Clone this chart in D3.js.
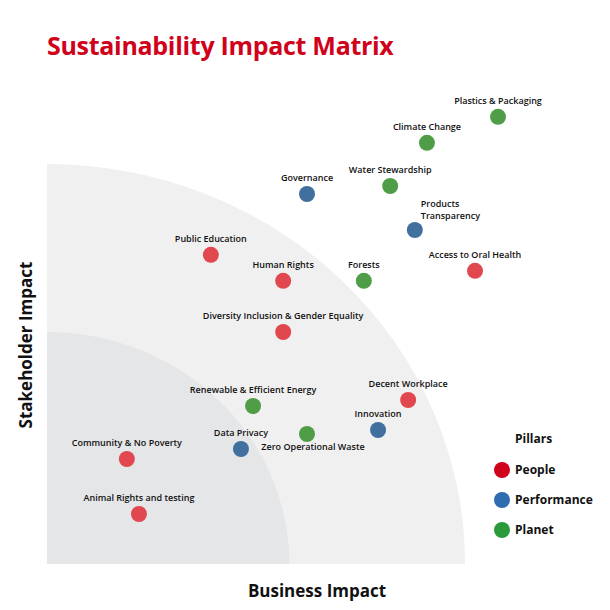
<!DOCTYPE html>
<html><head><meta charset="utf-8">
<script src="https://cdn.jsdelivr.net/npm/d3@7"></script>
<style>body{margin:0;background:#fff}</style></head>
<body><svg id="c" width="610" height="610"></svg>
<script>
const names = ["Plastics & Packaging","Climate Change","Water Stewardship","Governance","Products Transparency","Public Education","Human Rights","Forests","Access to Oral Health","Diversity Inclusion & Gender Equality","Decent Workplace","Renewable & Efficient Energy","Innovation","Zero Operational Waste","Data Privacy","Community & No Poverty","Animal Rights and testing"];
const businessImpact = [107.9,90.9,82.1,62.2,88.0,39.2,56.5,75.8,102.4,56.5,86.4,49.3,79.2,62.2,46.4,19.1,22.0];
const stakeholderImpact = [111.8,105.3,94.5,92.5,83.5,77.3,70.8,70.8,73.3,58,41,39.5,33.5,32.5,28.75,26.25,12.5];
const pillarOf = ["Planet","Planet","Planet","Performance","Performance","People","People","Planet","People","People","People","Planet","Performance","Planet","Performance","People","People"];
const pillars = ["People","Performance","Planet"];
const zones = [100, 58];

const svg = d3.select("#c");
const x = d3.scaleLinear().domain([0,100]).range([47,465]);
const y = d3.scaleLinear().domain([0,100]).range([564,164]);
const col = d3.scaleOrdinal().domain(pillars).range(["#e0474f","#41709f","#4f9e47"]);
const legCol = d3.scaleOrdinal().domain(pillars).range(["#d0021b","#2e6db0","#2a9a3c"]);

const zoneFill = ["#f0f0f0","#e5e6e8"];
zones.forEach((r,i)=>{
  const rx = x(r)-x(0), ry = y(0)-y(r);
  const p = d3.path();
  p.moveTo(x(0),y(0)); p.lineTo(x(0),y(r));
  svg.append("path").attr("d",`M${x(0)},${y(0)} L${x(0)},${y(r)} A${rx},${ry} 0 0 1 ${x(r)},${y(0)} Z`).attr("fill",zoneFill[i]);
});

svg.append("text").attr("x",47).attr("y",55).text("Sustainability Impact Matrix")
  .attr("font-family","Open Sans").attr("font-weight",700).attr("font-size",25).attr("fill","#d0021b").attr("letter-spacing",-0.3);
svg.append("text").attr("transform","translate(32,345) rotate(-90)").attr("text-anchor","middle").text("Stakeholder Impact")
  .attr("font-family","Open Sans").attr("font-weight",700).attr("font-size",17).attr("fill","#111");
svg.append("text").attr("x",317).attr("y",597).attr("text-anchor","middle").text("Business Impact")
  .attr("font-family","Open Sans").attr("font-weight",700).attr("font-size",17).attr("fill","#111");

const data = names.map((n,i)=>({n,x:businessImpact[i],y:stakeholderImpact[i],p:pillarOf[i]}));
const g = svg.append("g");
g.selectAll("circle").data(data).join("circle")
  .attr("cx",d=>x(d.x)).attr("cy",d=>y(d.y)).attr("r",8).attr("fill",d=>col(d.p));
const lab = g.selectAll("text").data(data).join("text")
  .attr("font-family","Open Sans").attr("font-weight",600).attr("font-size",9).attr("fill","#111");
lab.each(function(d){
  const t = d3.select(this);
  const cx = x(d.x), cy = y(d.y);
  if(d.n==="Products Transparency"){
    t.attr("x",cx+6).attr("y",cy-23);
    t.append("tspan").attr("x",cx+6).text("Products");
    t.append("tspan").attr("x",cx+6).attr("dy",12).text("Transparency");
  } else if(d.n==="Zero Operational Waste"){
    t.attr("x",cx+6).attr("y",cy+16).attr("text-anchor","middle").text(d.n);
  } else {
    t.attr("x",cx).attr("y",cy-13).attr("text-anchor","middle").text(d.n);
  }
});

svg.append("text").attr("x",515).attr("y",443).text("Pillars")
  .attr("font-family","Open Sans").attr("font-weight",700).attr("font-size",12).attr("fill","#111");
pillars.forEach((p,i)=>{
  svg.append("circle").attr("cx",502).attr("cy",470+i*30).attr("r",8).attr("fill",legCol(p));
  svg.append("text").attr("x",515).attr("y",474+i*30).text(p)
    .attr("font-family","Open Sans").attr("font-weight",700).attr("font-size",12).attr("fill","#111");
});
</script></body></html>
